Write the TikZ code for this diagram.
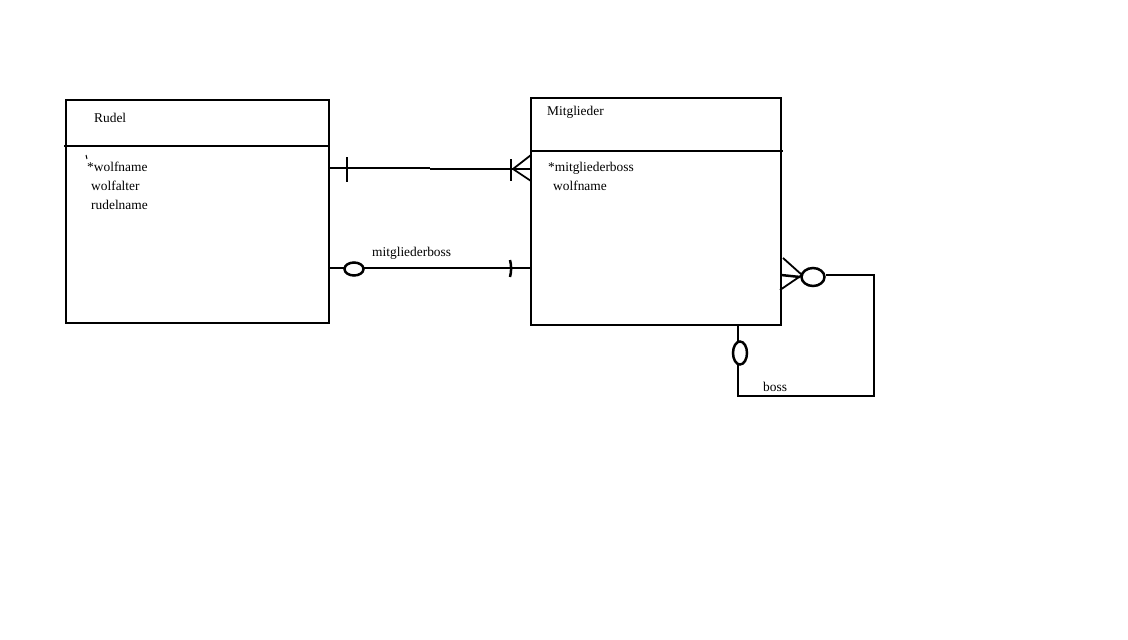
\documentclass[tikz,border=0pt]{standalone}
\usepackage{fontspec}
\setmainfont{Liberation Serif}
\usetikzlibrary{shapes.geometric}
\begin{document}
\begin{tikzpicture}[x=1pt,y=-1pt,
  ent/.style={draw,line width=2.5pt,rectangle,anchor=north west,inner sep=0pt,outer sep=0pt},
  ln/.style={line width=2.5pt},
  thin/.style={line width=1.8pt},
  txt/.style={anchor=base west,inner sep=0pt,font=\fontsize{13.4}{15}\selectfont}]
\useasboundingbox (0,0) rectangle (1128,640);
\fill[white] (0,0) rectangle (1128,640);
% entities
\node[ent,minimum width=263pt,minimum height=223pt] (rudel) at (66,100) {};
\node[ent,minimum width=250pt,minimum height=227pt] (mitg) at (531,98) {};
\coordinate (rdl) at (64,146); \coordinate (rdr) at (329,146);
\coordinate (mdl) at (531,151); \coordinate (mdr) at (783,151);
\draw[ln] (rdl) -- (rdr);
\draw[ln] (mdl) -- (mdr);
% texts
\node[txt] (trudel) at (94,122) {Rudel};
\node[txt] (ta1) at (87,171.5) {*wolfname};
\node[txt] (ta2) at (91,190) {wolfalter};
\node[txt] (ta3) at (91,209) {rudelname};
\draw[line width=1pt] (86,155) -- (87,159);
\node[txt] (tmitg) at (547,115) {Mitglieder};
\node[txt] (tm1) at (548,171.5) {*mitgliederboss};
\node[txt] (tm2) at (553,190.5) {wolfname};
% relationship 1: one to many
\coordinate (r1a) at (329,168); \coordinate (r1m) at (430,168);
\coordinate (r1n) at (430,169); \coordinate (r1b) at (531,169);
\draw[ln] (r1a) -- (r1m);
\draw[ln] (r1n) -- (r1b);
\coordinate (t1a) at (347,157); \coordinate (t1b) at (347,182);
\draw[ln] (t1a) -- (t1b);
\coordinate (t2a) at (511,159); \coordinate (t2b) at (511,181);
\draw[ln] (t2a) -- (t2b);
\coordinate (cfv) at (513,169);
\coordinate (cf1) at (531,155); \coordinate (cf2) at (531,181);
\draw[thin] (cf1) -- (cfv) -- (cf2);
% relationship 2: mitgliederboss
\coordinate (r2a) at (329,268); \coordinate (r2b) at (531,268);
\draw[ln] (r2a) -- (r2b);
\node[draw,line width=2.5pt,fill=white,ellipse,minimum width=19pt,minimum height=13pt,inner sep=0pt] (o1) at (354,269) {};
\draw[ln] (510,260) .. controls (511.5,266) and (511.5,271) .. (510,277);
\node[txt] (lbl1) at (372,256) {mitgliederboss};
% self relationship: boss
\coordinate (s0) at (781,275);
\node[draw,line width=2.5pt,ellipse,minimum width=23pt,minimum height=18pt,inner sep=0pt] (o2) at (813,277) {};
\coordinate (s1) at (874,275);
\coordinate (s2) at (874,396);
\coordinate (s3) at (738,396);
\coordinate (s4) at (738,325);
\draw[ln] (s0) -- (o2.west);
\draw[ln] (o2.east |- s1) -- (s1) -- (s2) -- (s3) -- (s4);
\coordinate (cv2) at (802,275);
\draw[thin] (783,258) -- (cv2) -- (780,290);
\node[draw,line width=2.5pt,fill=white,ellipse,minimum width=14pt,minimum height=23pt,inner sep=0pt] (o3) at (740,353) {};
\node[txt] (lbl2) at (763,391.5) {boss};
\end{tikzpicture}
\end{document}
